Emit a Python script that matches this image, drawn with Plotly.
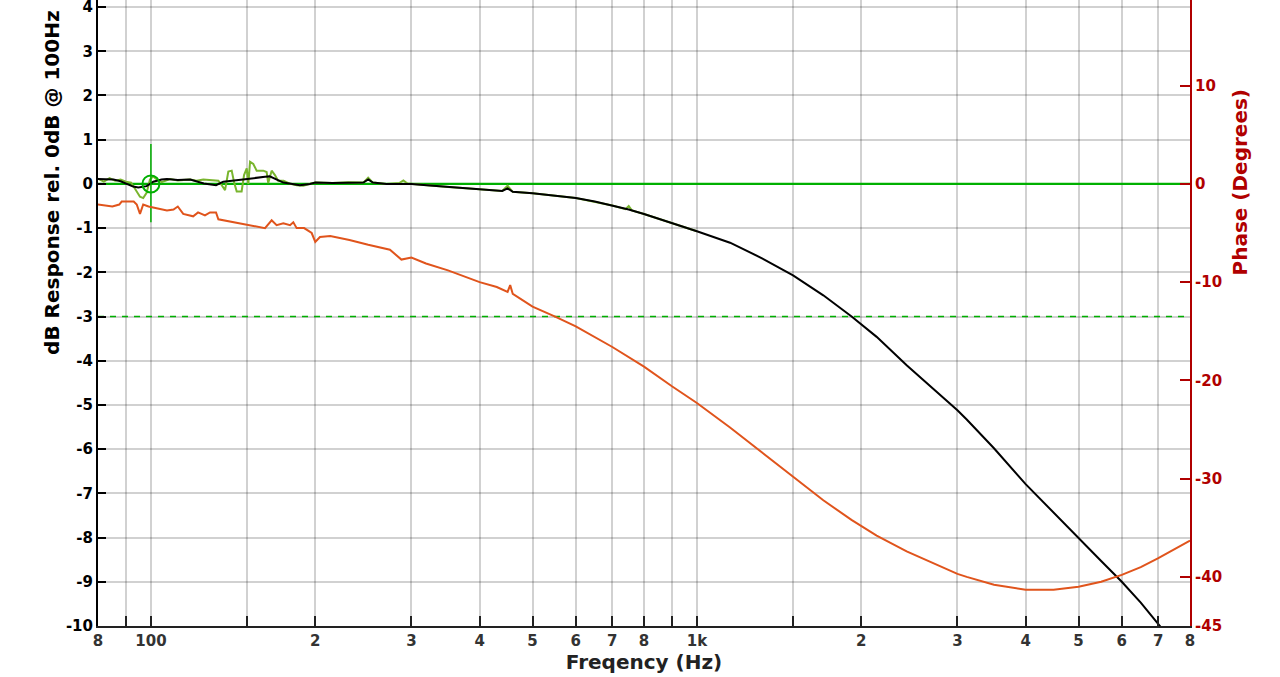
#!/usr/bin/env python3

# Frequency / phase response plot, rebuilt with plotly.

import plotly.graph_objects as go

# Smoothed magnitude response (dB rel. 100 Hz)
smooth_freq = [80, 85.4, 88, 90.3, 92.8, 94.8, 97, 98.2, 101, 104.6, 107, 112, 118,
               122, 125, 131.6, 135.7, 161.8, 165, 174.8, 187.4, 195.5, 200, 215,
               230, 245, 250, 255, 270, 300, 320, 350, 400, 440, 450, 460, 500, 550,
               600, 650, 700, 750, 800, 900, 1000, 1150, 1305, 1500, 1704, 1920,
               2134, 2422, 2749, 3000, 3120, 3500, 4000, 4500, 5000, 5500, 6000,
               6500, 7000, 7500, 8000]
smooth_db = [0.11, 0.10, 0.06, 0.0, -0.06, -0.08, -0.07, -0.05, 0.05, 0.10, 0.11,
             0.09, 0.10, 0.05, 0.01, -0.03, 0.05, 0.16, 0.17, 0.03, -0.03, 0.0,
             0.03, 0.02, 0.03, 0.03, 0.10, 0.03, 0.0, 0.0, -0.03, -0.07, -0.12,
             -0.16, -0.10, -0.18, -0.21, -0.26, -0.32, -0.40, -0.49, -0.58, -0.68,
             -0.88, -1.07, -1.33, -1.66, -2.07, -2.52, -3.0, -3.46, -4.10, -4.70,
             -5.12, -5.33, -5.98, -6.79, -7.44, -8.02, -8.53, -9.0, -9.47, -9.96,
             -10.4, -10.82]

# Raw (unsmoothed) magnitude response
raw_freq = [80, 82, 84, 86, 88, 90, 92, 93.5, 95.5, 96.8, 98.2, 99.6, 101, 102.5,
            104.6, 108.4, 112, 118, 121.3, 124.7, 130.2, 132.9, 134.8, 136.7, 138.6,
            140.6, 142, 143.6, 146.6, 148.1, 149.8, 150.8, 151.9, 154, 156.2, 160.6,
            162.9, 164, 166.4, 168.7, 171, 175, 180, 185, 190, 200, 215, 230, 245,
            250, 255, 270, 285, 290, 295, 320, 350, 400, 440, 450, 460, 500, 600,
            700, 740, 750, 760, 800, 900, 1000]
raw_db = [0.12, 0.05, 0.13, 0.07, 0.10, 0.05, 0.03, -0.10, -0.29, -0.32, -0.20, 0.10,
          0.17, 0.10, 0.04, 0.11, 0.08, 0.10, 0.07, 0.10, 0.07, 0.07, -0.03, -0.14,
          0.28, 0.30, 0.04, -0.17, -0.17, 0.20, 0.35, 0.0, 0.50, 0.45, 0.30, 0.30,
          0.27, 0.02, 0.30, 0.20, 0.07, 0.07, 0.0, -0.03, -0.04, 0.03, 0.02, 0.04,
          0.03, 0.14, 0.03, 0.0, 0.02, 0.08, 0.01, -0.03, -0.07, -0.12, -0.16,
          -0.04, -0.18, -0.21, -0.32, -0.49, -0.57, -0.50, -0.60, -0.68, -0.88, -1.07]

# Phase (degrees)
phase_freq = [80, 85, 87.5, 88.4, 93, 94.2, 95.5, 96.8, 99, 102.5, 107, 110, 112,
              114.6, 119.5, 122, 125.6, 128.3, 131.6, 132.9, 161.8, 166.4, 169.9,
              174.8, 179.8, 182.3, 184.9, 190.8, 197, 200, 204, 213, 231, 250, 274,
              287.6, 300, 319, 350, 400, 430, 450, 455, 460, 500, 550, 600, 700, 800,
              900, 1000, 1150, 1305, 1500, 1704, 1919, 2134, 2422, 2749, 3000,
              3120, 3500, 4000, 4500, 5000, 5500, 6000, 6500, 7000, 7500, 8000]
phase_deg = [-2.1, -2.3, -2.1, -1.8, -1.8, -2.1, -3.05, -2.1, -2.3, -2.45, -2.7, -2.6,
             -2.3, -3.05, -3.3, -2.9, -3.2, -2.9, -2.9, -3.6, -4.5, -3.7, -4.2, -4.0,
             -4.2, -3.9, -4.5, -4.5, -5.0, -5.9, -5.4, -5.3, -5.7, -6.2, -6.7, -7.7,
             -7.5, -8.1, -8.8, -10.0, -10.5, -11.0, -10.3, -11.2, -12.5, -13.5, -14.5,
             -16.6, -18.6, -20.6, -22.3, -24.8, -27.2, -29.8, -32.2, -34.2, -35.8,
             -37.4, -38.8, -39.7, -40.0, -40.8, -41.3, -41.3, -41.0, -40.5, -39.8,
             -39.0, -38.1, -37.2, -36.3]

# Reference lines and the 100 Hz marker
ref_freq = [80, 8000]
zero_db = [0, 0]
minus3_db = [-3, -3]
marker_freq = [100]
marker_db = [0]

# Axis ticks
x_tickvals = [80, 90, 100, 150, 200, 300, 400, 500, 600, 700, 800, 900, 1000,
              1500, 2000, 3000, 4000, 5000, 6000, 7000, 8000]
x_ticktext = ["8", "", "100", "", "2", "3", "4", "5", "6", "7", "8", "", "1k",
              "", "2", "3", "4", "5", "6", "7", "8"]
y_tickvals = list(range(-10, 5))
y_ticktext = [str(v) for v in y_tickvals]
y2_tickvals = [10, 0, -10, -20, -30, -40, -45]
y2_ticktext = [str(v) for v in y2_tickvals]

GREEN = "#00b000"
RED = "#b00000"
FONT = "DejaVu Sans"

fig = go.Figure()

fig.add_trace(go.Scatter(x=ref_freq, y=zero_db, mode="lines",
                         line=dict(color=GREEN, width=2.2)))
fig.add_trace(go.Scatter(x=ref_freq, y=minus3_db, mode="lines",
                         line=dict(color=GREEN, width=1.5, dash="6px,6px")))
fig.add_trace(go.Scatter(x=raw_freq, y=raw_db, mode="lines",
                         line=dict(color="#79b52e", width=2)))
fig.add_trace(go.Scatter(x=smooth_freq, y=smooth_db, mode="lines",
                         line=dict(color="black", width=2)))
fig.add_trace(go.Scatter(
    x=marker_freq, y=marker_db, mode="markers",
    marker=dict(symbol="circle-open", size=17, color=GREEN, line=dict(width=2)),
    error_y=dict(type="data", array=[0.9], arrayminus=[0.87], width=0,
                 thickness=1.5, color=GREEN)))
fig.add_trace(go.Scatter(x=phase_freq, y=phase_deg, mode="lines", yaxis="y2",
                         line=dict(color="#e0541c", width=2)))

fig.update_layout(
    width=1280, height=677,
    margin=dict(l=98, r=90, t=0, b=51),
    paper_bgcolor="white", plot_bgcolor="white",
    showlegend=False,
    font=dict(family=FONT),
    xaxis=dict(
        type="log", range=[1.90309, 3.90309],
        tickvals=x_tickvals, ticktext=x_ticktext,
        ticks="inside", ticklen=10, tickwidth=2, tickcolor="#222",
        showline=True, linecolor="#222", linewidth=2,
        showgrid=True, gridcolor="rgba(0,0,0,0.18)", gridwidth=1.5,
        tickfont=dict(size=15, color="#333", weight="bold"),
        title=dict(text="Freqency (Hz)", standoff=2,
                   font=dict(size=20, color="#222", weight="bold")),
        zeroline=False, automargin=False, ticklabeloverflow="allow",
    ),
    yaxis=dict(
        range=[-10, 4.16],
        tickvals=y_tickvals, ticktext=y_ticktext,
        ticks="inside", ticklen=8, tickwidth=2, tickcolor="black",
        showline=True, linecolor="black", linewidth=2,
        showgrid=True, gridcolor="rgba(0,0,0,0.18)", gridwidth=1.5,
        tickfont=dict(size=15, color="black", weight="bold"),
        zeroline=False, automargin=False, ticklabeloverflow="allow",
    ),
    yaxis2=dict(
        overlaying="y", side="right",
        range=[-45, 18.72],
        tickvals=y2_tickvals, ticktext=y2_ticktext,
        ticks="inside", ticklen=10, tickwidth=2, tickcolor=RED,
        showline=True, linecolor=RED, linewidth=2,
        showgrid=False, zeroline=False, automargin=False,
        ticklabeloverflow="allow",
        tickfont=dict(size=15, color=RED, weight="bold"),
    ),
    annotations=[
        dict(text="dB Response rel. 0dB @ 100Hz", textangle=-90,
             xref="paper", yref="paper", x=-0.042, y=0.708,
             xanchor="center", yanchor="middle", showarrow=False,
             font=dict(size=20, color="black", weight="bold")),
        dict(text="Phase (Degrees)", textangle=-90,
             xref="paper", yref="paper", x=1.0455, y=0.708,
             xanchor="center", yanchor="middle", showarrow=False,
             font=dict(size=20, color=RED, weight="bold")),
    ],
)

# page body has a default margin; drop it so the figure fills the window
fig.write_html("out.html", config={"displayModeBar": False},
               post_script="document.body.style.margin='0px';")
